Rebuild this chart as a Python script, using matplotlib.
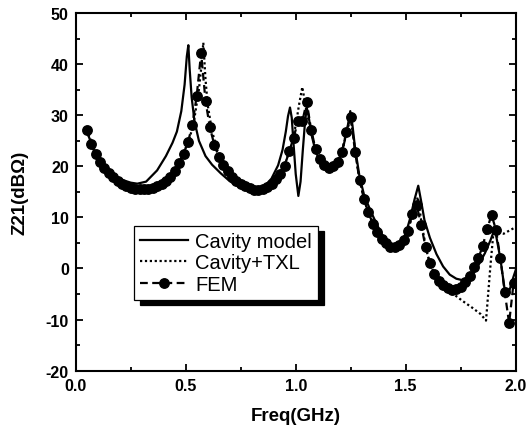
import matplotlib
matplotlib.use("Agg")
import matplotlib.pyplot as plt
from matplotlib.ticker import MultipleLocator

plt.rcParams['font.family'] = ['Liberation Sans', 'DejaVu Sans']

# Cavity model (solid)
cav_f = [0.05, 0.08, 0.11, 0.15, 0.20, 0.25, 0.28, 0.32, 0.37, 0.41, 0.44, 0.46,
         0.48, 0.495, 0.505, 0.512, 0.518, 0.527, 0.54, 0.56, 0.59, 0.62, 0.66,
         0.70, 0.74, 0.78, 0.82, 0.86, 0.89, 0.92, 0.94, 0.955, 0.965, 0.974,
         0.982, 0.99, 1.00, 1.012, 1.022, 1.032, 1.042, 1.05, 1.058, 1.07, 1.09,
         1.11, 1.14, 1.17, 1.20, 1.22, 1.237, 1.248, 1.258, 1.27, 1.29, 1.31,
         1.34, 1.37, 1.40, 1.43, 1.45, 1.48, 1.50, 1.52, 1.54, 1.557, 1.57,
         1.585, 1.61, 1.64, 1.67, 1.70, 1.73, 1.76, 1.79, 1.81, 1.835, 1.86,
         1.885, 1.905, 1.93, 1.95, 1.962, 1.975, 1.99, 2.00]
cav_z = [27.0, 23.3, 21.0, 19.0, 17.5, 16.8, 16.6, 17.0, 19.2, 22.0, 24.6, 26.8,
         30.8, 36.0, 41.5, 43.7, 39.0, 33.5, 28.8, 25.0, 22.0, 20.3, 18.6,
         17.1, 16.0, 15.3, 15.3, 16.2, 17.6, 20.2, 23.2, 26.8, 29.8, 31.5,
         29.5, 24.5, 18.5, 14.2, 17.0, 23.0, 28.5, 31.5, 30.0, 26.5, 23.0,
         21.0, 19.7, 19.8, 21.5, 24.5, 28.0, 30.8, 28.0, 23.5, 18.0, 14.5,
         11.3, 8.5, 6.0, 4.5, 4.2, 5.2, 6.8, 9.8, 13.5, 16.2, 13.2,
         9.5, 6.0, 2.8, 0.4, -1.2, -2.0, -2.3, -1.7, -0.8, 1.0, 3.0,
         5.5, 7.8, 2.0, -4.2, -5.5, -3.8, -1.6, -0.3]

# Cavity + TXL (dotted)
txl_f = [0.05, 0.10, 0.15, 0.20, 0.25, 0.30, 0.35, 0.40, 0.45, 0.49, 0.52, 0.54,
         0.56, 0.57, 0.58, 0.59, 0.60, 0.62, 0.65, 0.70, 0.75, 0.80, 0.85, 0.90,
         0.95, 0.98, 1.00, 1.015, 1.03, 1.04, 1.05, 1.07, 1.09, 1.12, 1.15, 1.18,
         1.21, 1.23, 1.25, 1.27, 1.29, 1.32, 1.36, 1.40, 1.44, 1.48, 1.51, 1.535,
         1.555, 1.575, 1.60, 1.63, 1.66, 1.69, 1.72, 1.76, 1.80, 1.84, 1.865,
         1.885, 1.90, 1.925, 1.945, 1.97, 2.00]
txl_z = [27.2, 21.6, 18.7, 16.9, 15.8, 15.5, 15.8, 16.8, 19.0, 22.4, 25.8, 29.5,
         35.0, 39.0, 44.2, 37.0, 32.0, 26.8, 22.2, 18.6, 16.6, 15.5, 15.5, 17.0,
         20.3, 24.0, 28.0, 32.0, 35.5, 33.0, 30.5, 27.0, 23.4, 20.8, 19.8, 20.4,
         22.6, 26.5, 29.5, 23.0, 17.3, 12.2, 8.0, 5.3, 4.2, 5.0, 7.5, 11.0,
         14.0, 8.0, 2.5, -1.0, -3.0, -4.3, -5.1, -6.4, -7.6, -8.9, -10.2,
         0.5, 7.7, 7.0, 6.8, 7.4, 8.1]

# FEM (dashed + circles)
fem_f = [0.05, 0.07, 0.09, 0.11, 0.13, 0.15, 0.17, 0.19, 0.21, 0.23, 0.25, 0.27,
         0.29, 0.31, 0.33, 0.35, 0.37, 0.39, 0.41, 0.43, 0.45, 0.47, 0.49, 0.51,
         0.53, 0.55, 0.57, 0.59, 0.61, 0.63, 0.65, 0.67, 0.69, 0.71, 0.73, 0.75,
         0.77, 0.79, 0.81, 0.83, 0.85, 0.87, 0.89, 0.91, 0.93, 0.95, 0.97, 0.99,
         1.01, 1.03, 1.05, 1.07, 1.09, 1.11, 1.13, 1.15, 1.17, 1.19, 1.21, 1.23,
         1.25, 1.27, 1.29, 1.31, 1.33, 1.35, 1.37, 1.39, 1.41, 1.43, 1.45, 1.47,
         1.49, 1.51, 1.53, 1.55, 1.57, 1.59, 1.61, 1.63, 1.65, 1.67, 1.69, 1.71,
         1.73, 1.75, 1.77, 1.79, 1.81, 1.83, 1.85, 1.87, 1.89, 1.91, 1.93, 1.95,
         1.97, 1.99]
fem_z = [27.2, 24.4, 22.4, 20.9, 19.7, 18.7, 17.9, 17.2, 16.6, 16.2, 15.8, 15.6,
         15.5, 15.5, 15.6, 15.8, 16.1, 16.5, 17.1, 17.9, 19.0, 20.7, 22.5, 24.7,
         28.0, 33.8, 42.2, 32.8, 27.6, 24.2, 21.9, 20.3, 19.0, 18.0, 17.2, 16.6,
         16.1, 15.7, 15.4, 15.3, 15.5, 15.9, 16.6, 17.5, 18.5, 20.1, 22.9, 25.5,
         28.8, 28.8, 32.6, 27.2, 23.4, 21.4, 20.3, 19.7, 20.1, 20.9, 22.8, 26.8,
         29.7, 22.8, 17.3, 13.6, 11.0, 8.8, 7.1, 5.8, 4.9, 4.3, 4.2, 4.6,
         5.6, 7.4, 10.6, 12.4, 8.6, 4.2, 1.0, -1.0, -2.4, -3.3, -3.9, -4.2,
         -4.1, -3.6, -2.7, -1.5, 0.2, 2.0, 4.4, 7.7, 10.5, 7.6, 2.1, -4.6,
         -10.7, -2.9]

x_ticks = [0.0, 0.5, 1.0, 1.5, 2.0]
x_ticklabels = ['0.0', '0.5', '1.0', '1.5', '2.0']
y_ticks = [-20, -10, 0, 10, 20, 30, 40, 50]
y_ticklabels = ['-20', '-10', '0', '10', '20', '30', '40', '50']

fig = plt.figure(figsize=(5.32, 4.31), dpi=100)
ax = fig.add_axes([0.1423, 0.1376, 0.8271, 0.8299])

ax.plot(cav_f, cav_z, color='black', lw=1.6, ls='-', label='Cavity model')
ax.plot(txl_f, txl_z, color='black', lw=1.6, ls=(0, (1, 1.2)), label='Cavity+TXL')
ax.plot(fem_f, fem_z, color='black', lw=1.6, ls=(0, (3.5, 2)), marker='o',
        markersize=6.8, markeredgecolor='black', markerfacecolor='black',
        label='FEM')

ax.set_xlim(0, 2.0)
ax.set_ylim(-20, 50)
ax.set_xticks(x_ticks)
ax.set_xticklabels(x_ticklabels)
ax.set_yticks(y_ticks)
ax.set_yticklabels(y_ticklabels)
ax.xaxis.set_minor_locator(MultipleLocator(0.25))
ax.yaxis.set_minor_locator(MultipleLocator(5))
ax.tick_params(which='both', direction='in', top=True, right=True, width=1.3,
               labelsize=11.5, pad=5)
ax.tick_params(which='major', length=5)
ax.tick_params(which='minor', length=3)
for lab in ax.get_xticklabels() + ax.get_yticklabels():
    lab.set_fontweight('bold')
for sp in ax.spines.values():
    sp.set_linewidth(1.5)

ax.set_xlabel('Freq(GHz)', fontsize=13.5, fontweight='bold', labelpad=10)
ax.set_ylabel('Z21(dB\u03a9)', fontsize=13.5, fontweight='bold', labelpad=12)

leg = ax.legend(loc='upper left', bbox_to_anchor=(0.1325, 0.405),
                borderaxespad=0, fontsize=14.5, frameon=True, fancybox=False,
                handlelength=2.4, handletextpad=0.35, labelspacing=0.12,
                borderpad=0.3,
                shadow={'ox': 4, 'oy': -4, 'facecolor': 'black',
                        'edgecolor': 'black', 'alpha': 1})
leg.get_frame().set_edgecolor('black')
leg.get_frame().set_linewidth(0.9)

fig.savefig('out.png', dpi=100)
